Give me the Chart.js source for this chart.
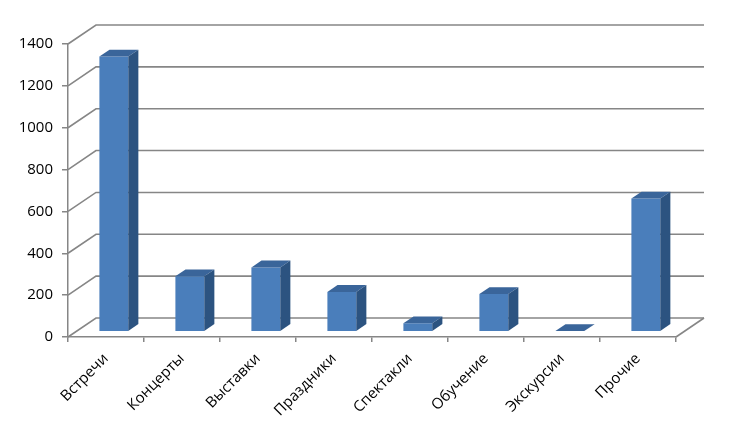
<!DOCTYPE html>
<html>
<head>
<meta charset="utf-8">
<script src="https://cdn.jsdelivr.net/npm/chart.js@4.4.0/dist/chart.umd.min.js"></script>
<style>
  html, body { margin: 0; padding: 0; background: #fff; }
  #wrap { width: 735px; height: 431px; }
</style>
</head>
<body>
<div id="wrap"><canvas id="chart"></canvas></div>
<script>
// Chart data
const categories = ['Встречи', 'Концерты', 'Выставки', 'Праздники', 'Спектакли', 'Обучение', 'Экскурсии', 'Прочие'];
const values = [1315, 265, 307, 190, 40, 180, 3, 636];
const yMin = 0;
const yMax = 1400;
const yStep = 200;

// 3D look: offset from the front plane to the back wall
const depthX = 28;
const depthY = -19;
const barFront = 0.28;   // bar front face, as a share of the depth
const barDepth = 0.36;   // bar thickness, as a share of the depth

const gridColor = '#868686';

const pseudo3d = {
    id: 'pseudo3d',
    beforeDatasetsDraw(chart) {
        const ctx = chart.ctx;
        const area = chart.chartArea;
        const y = chart.scales.y;

        ctx.save();
        ctx.strokeStyle = gridColor;
        ctx.lineWidth = 1.6;
        // left wall and back wall grid lines
        for (let v = yMin; v <= yMax; v += yStep) {
            const py = y.getPixelForValue(v);
            ctx.beginPath();
            ctx.moveTo(area.left, py);
            ctx.lineTo(area.left + depthX, py + depthY);
            ctx.lineTo(area.right + depthX, py + depthY);
            ctx.stroke();
        }
        // right edge of the floor
        ctx.beginPath();
        ctx.moveTo(area.right, area.bottom);
        ctx.lineTo(area.right + depthX, area.bottom + depthY);
        ctx.stroke();
        ctx.restore();

        // front faces are drawn by Chart.js, pushed back into the floor
        ctx.save();
        ctx.translate(depthX * barFront, depthY * barFront);
    },
    afterDatasetsDraw(chart) {
        const ctx = chart.ctx;
        ctx.restore();

        const sx = depthX * barFront;
        const sy = depthY * barFront;
        const bx = depthX * barDepth;
        const by = depthY * barDepth;

        chart.getDatasetMeta(0).data.forEach(bar => {
            const p = bar.getProps(['x', 'y', 'base', 'width'], true);
            const x1 = p.x - p.width / 2 + sx;
            const x2 = p.x + p.width / 2 + sx;
            const top = p.y + sy;
            const base = p.base + sy;

            // top face
            ctx.fillStyle = '#3a659a';
            ctx.beginPath();
            ctx.moveTo(x1, top);
            ctx.lineTo(x2, top);
            ctx.lineTo(x2 + bx, top + by);
            ctx.lineTo(x1 + bx, top + by);
            ctx.closePath();
            ctx.fill();

            // side face
            ctx.fillStyle = '#2c5380';
            ctx.beginPath();
            ctx.moveTo(x2, top);
            ctx.lineTo(x2 + bx, top + by);
            ctx.lineTo(x2 + bx, base + by);
            ctx.lineTo(x2, base);
            ctx.closePath();
            ctx.fill();
        });
    }
};

const ctx = document.getElementById('chart').getContext('2d');

new Chart(ctx, {
    type: 'bar',
    data: {
        labels: categories,
        datasets: [{
            data: values,
            backgroundColor: '#4a7ebb',
            borderWidth: 0,
            categoryPercentage: 1,
            barPercentage: 0.38
        }]
    },
    options: {
        responsive: true,
        maintainAspectRatio: false,
        animation: false,
        layout: {
            padding: { top: 44, right: 59, bottom: 0, left: 0 }
        },
        plugins: {
            legend: { display: false },
            tooltip: { enabled: false }
        },
        scales: {
            x: {
                grid: {
                    display: true,
                    drawOnChartArea: false,
                    drawTicks: true,
                    tickLength: 5,
                    color: gridColor,
                    lineWidth: 1.5,
                    offset: true
                },
                border: { display: true, color: gridColor, width: 1.5 },
                ticks: {
                    color: '#000',
                    font: { family: 'Open Sans', size: 15 },
                    minRotation: 45,
                    maxRotation: 45,
                    padding: 8
                },
                afterFit(scale) {
                    scale.height = 94;
                }
            },
            y: {
                min: yMin,
                max: yMax,
                grid: {
                    display: true,
                    drawOnChartArea: false,
                    drawTicks: true,
                    tickLength: 6,
                    color: gridColor,
                    lineWidth: 1.5
                },
                border: { display: true, color: gridColor, width: 1.5 },
                ticks: {
                    stepSize: yStep,
                    color: '#000',
                    font: { family: 'Open Sans', size: 15 },
                    padding: 9,
                    callback: v => String(v)
                },
                afterFit(scale) {
                    scale.width = 68;
                }
            }
        }
    },
    plugins: [pseudo3d]
});
</script>
</body>
</html>
